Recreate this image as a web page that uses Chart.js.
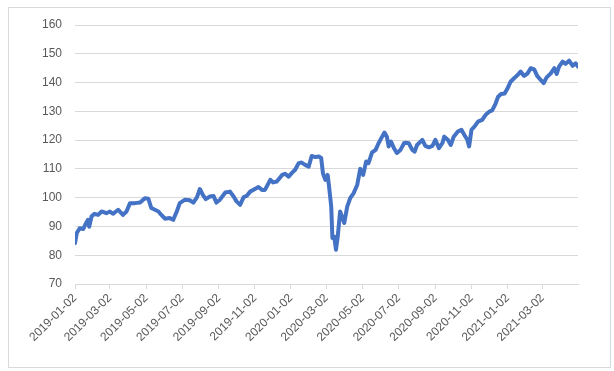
<!DOCTYPE html>
<html>
<head>
<meta charset="utf-8">
<script src="https://cdn.jsdelivr.net/npm/chart.js@4/dist/chart.umd.min.js"></script>
<style>
  html, body { margin: 0; padding: 0; background: #ffffff; }
  #wrap { position: relative; width: 614px; height: 371px; }
  #c { position: absolute; left: 0; top: 0; }
  #frame { position: absolute; left: 8px; top: 7px; width: 601px; height: 359px; border: 1px solid #d9d9d9; pointer-events: none; }
</style>
</head>
<body>
<div id="wrap">
  <canvas id="c" width="614" height="371"></canvas>
  <div id="frame"></div>
</div>
<script>
// Days since 2019-01-02 (series dates) and values
const startDate = '2019-01-02';
const days = [0,3,8,14,18,22,24,28,33,39,45,53,59,64,73,81,87,93,101,110,118,124,129,135,141,146,152,160,166,172,177,186,194,200,206,211,216,221,228,234,239,245,254,262,268,273,279,285,290,296,304,310,316,321,330,335,341,350,355,361,367,372,378,383,389,395,400,406,412,416,419,423,427,429,433,435,438,441,444,448,451,455,460,465,471,477,482,487,492,496,502,508,513,519,523,527,530,534,539,544,550,556,559,564,570,574,578,587,592,598,604,609,615,621,624,630,635,640,647,653,658,663,666,670,675,681,688,694,700,705,711,715,720,726,731,736,742,748,753,759,765,770,776,781,787,792,797,804,810,814,818,824,829,835,841,846,850];
const values = [84.2,87.7,89.4,89.1,90.9,92.3,89.9,93.5,94.4,94.0,95.2,94.6,95.2,94.4,95.8,94.0,95.2,98.1,98.1,98.3,99.8,99.6,96.4,95.8,95.2,94.0,92.7,92.9,92.3,95.2,98.1,99.3,99.1,98.3,100.1,103.0,101.0,99.5,100.4,100.6,98.3,99.3,101.8,102.1,100.4,98.7,97.5,100.2,100.6,102.1,103.0,103.7,102.7,102.7,106.2,105.3,105.6,107.9,108.3,107.3,108.7,109.7,112.0,112.2,111.4,110.8,114.5,114.1,114.3,113.8,108.5,106.2,107.9,104.5,96.9,86.0,86.5,81.9,86.5,95.2,93.5,91.2,96.9,99.8,101.6,104.5,110.0,107.9,112.6,112.0,115.7,116.6,118.9,121.2,122.6,121.2,117.8,119.5,117.2,115.5,116.6,118.9,119.1,118.9,116.6,116.0,118.3,120.1,118.0,117.5,118.0,120.1,117.2,119.0,121.2,120.1,118.3,121.2,123.0,123.6,121.8,120.1,117.8,123.6,124.7,126.4,127.0,128.8,129.9,130.3,132.8,135.1,136.0,136.2,138.0,140.3,141.5,142.6,143.8,142.3,143.2,145.0,144.6,142.3,140.9,139.8,141.8,143.2,145.0,143.0,145.5,147.3,146.5,147.6,145.8,146.7,145.5];
const tickLabels = ['2019-01-02','2019-03-02','2019-05-02','2019-07-02','2019-09-02','2019-11-02','2020-01-02','2020-03-02','2020-05-02','2020-07-02','2020-09-02','2020-11-02','2021-01-02','2021-03-02'];
const yTicks = [70,80,90,100,110,120,130,140,150,160];

function dayOf(s) {
  const [y, m, d] = s.split('-').map(Number);
  const [y0, m0, d0] = startDate.split('-').map(Number);
  return Math.round((Date.UTC(y, m - 1, d) - Date.UTC(y0, m0 - 1, d0)) / 86400000);
}
const tickDays = tickLabels.map(dayOf);
const points = days.map((d, i) => ({ x: d, y: values[i] }));

const font = { family: "'Liberation Sans', Arial, sans-serif", size: 12 };

new Chart(document.getElementById('c'), {
  type: 'line',
  data: {
    datasets: [{
      data: points,
      borderColor: '#4472C4',
      borderWidth: 4,
      pointRadius: 0,
      tension: 0,
      borderJoinStyle: 'round',
      borderCapStyle: 'round',
      fill: false
    }]
  },
  options: {
    responsive: false,
    animation: false,
    devicePixelRatio: 1,
    layout: { padding: { top: 25, right: 36, left: 0, bottom: 0 } },
    plugins: { legend: { display: false }, tooltip: { enabled: false } },
    scales: {
      x: {
        type: 'linear',
        min: 0,
        max: days[days.length - 1],
        afterBuildTicks: (s) => { s.ticks = tickDays.map(v => ({ value: v })); },
        afterFit: (s) => { s.height = 87; },
        ticks: {
          autoSkip: false,
          minRotation: 45,
          maxRotation: 45,
          color: '#595959',
          font: font,
          padding: 2,
          callback: (v, i) => tickLabels[i]
        },
        grid: { drawOnChartArea: false, drawTicks: true, tickLength: 5, color: '#d9d9d9' },
        border: { display: true, color: '#d9d9d9' }
      },
      y: {
        min: 70,
        max: 160,
        afterBuildTicks: (s) => { s.ticks = yTicks.map(v => ({ value: v })); },
        afterFit: (s) => { s.width = 75; },
        ticks: { color: '#595959', font: font, padding: 13 },
        grid: { color: '#d9d9d9', drawTicks: false },
        border: { display: false }
      }
    }
  }
});
</script>
</body>
</html>
